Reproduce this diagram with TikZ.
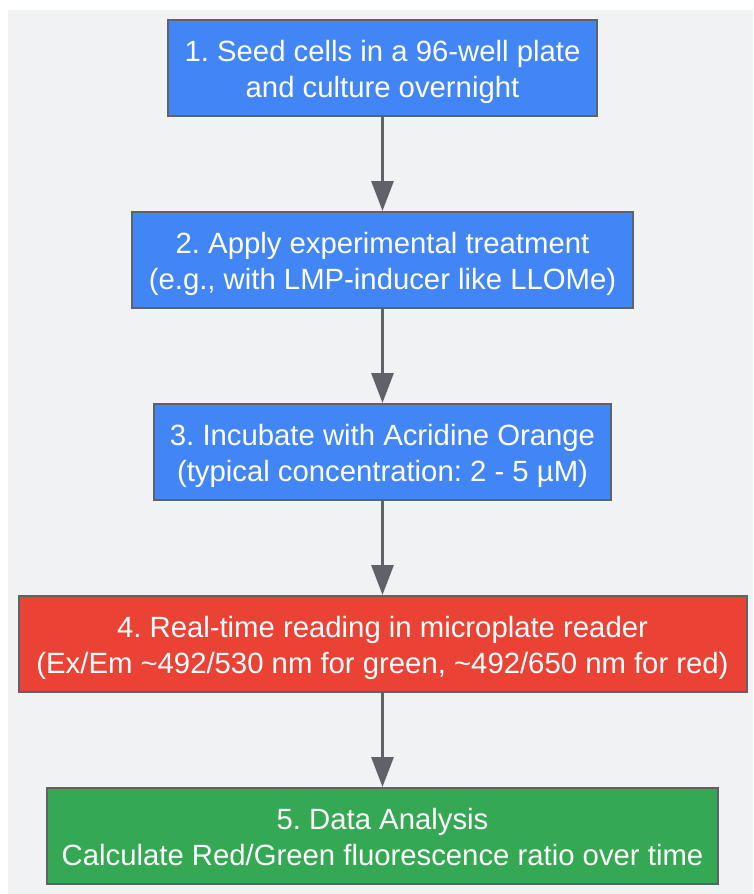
\documentclass[tikz,border=0pt]{standalone}
\usepackage{fontspec}
\setmainfont{Liberation Sans}
\usetikzlibrary{arrows.meta,positioning}
\definecolor{stageblue}{HTML}{4285F4}
\definecolor{stagered}{HTML}{EA4335}
\definecolor{stagegreen}{HTML}{34A853}
\definecolor{rimgray}{HTML}{5F6368}
\definecolor{backgray}{HTML}{F1F2F4}
\newcommand{\topgap}{\rule{0pt}{29pt}}
\newcommand{\botgap}{\rule[-6.5pt]{0pt}{6.5pt}}
\frenchspacing

\begin{document}
\begin{tikzpicture}[x=1pt,y=-1pt,
            stage/.style={draw=rimgray,line width=2pt,text=white,minimum height=96pt,
              align=center,font=\fontsize{29.3}{36}\selectfont,node distance=192pt},
            flow/.style={color=rimgray,line width=3pt,-{Triangle[length=30pt,width=22pt]}}
          ]
          \useasboundingbox (0,0) rectangle (753,894);
          \fill[backgray] (8,10) rectangle (753,894);

          %steps
          \node[stage,fill=stageblue,minimum width=429pt] (1) at (382.5,68)
            {\topgap 1. Seed cells in a 96-well plate\\and culture overnight\botgap};
          \node[below of = 1,stage,fill=stageblue,minimum width=501pt] (2)
            {\topgap 2. Apply experimental treatment\\(e.g., with LMP-inducer like LLOMe)\botgap};
          \node[below of = 2,stage,fill=stageblue,minimum width=457pt] (3)
            {\topgap 3. Incubate with Acridine Orange\\(typical concentration: 2 - 5 µM)\botgap};
          \node[below of = 3,stage,fill=stagered,minimum width=728pt] (4)
            {\topgap 4. Real-time reading in microplate reader\\(Ex/Em \textasciitilde492/530 nm for green, \textasciitilde492/650 nm for red)\botgap};
          \node[below of = 4,stage,fill=stagegreen,minimum width=671pt] (5)
            {\topgap 5. Data Analysis\\Calculate Red/Green fluorescence ratio over time\botgap};

          %arrows
          \path[flow]
          (1) edge (2)
          (2) edge (3)
          (3) edge (4)
          (4) edge (5)
          ;

\end{tikzpicture}
\end{document}
